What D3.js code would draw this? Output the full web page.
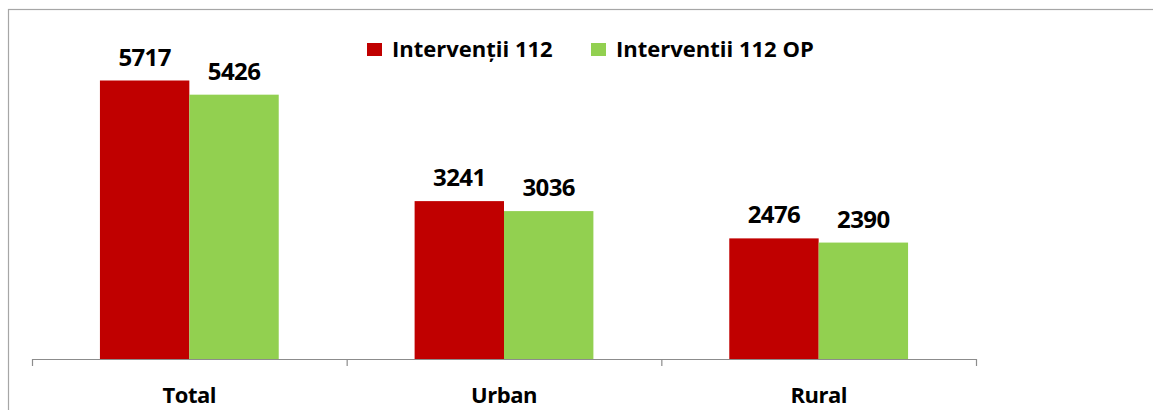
<!DOCTYPE html>
<html>
<head>
<meta charset="utf-8">
<script src="https://cdn.jsdelivr.net/npm/d3@7"></script>
<style>
    body { margin: 0; background: #fff; }
    text { font-family: "Open Sans", "Noto Sans", sans-serif; font-weight: 700; fill: #000; }
</style>
</head>
<body>
<svg id="chart" width="1153" height="410"></svg>
<script>
// data
let categories = ["Total", "Urban", "Rural"]
let series = ["Intervenții 112", "Interventii 112 OP"]
let interventii = [5717, 3241, 2476]
let interventiiOP = [5426, 3036, 2390]

let colors = ["#C00000", "#92D050"]

let svg = d3.select("#chart")
let width = 1153, height = 410

// outer frame
svg.append("rect")
    .attr("x", 8.5)
    .attr("y", 9.5)
    .attr("width", 1200)
    .attr("height", 500)
    .style("fill", "none")
    .style("stroke", "#a6a6a6")
    .style("stroke-width", 1.2)

let rows = categories.map(function (c, i) {
    return { cat: c, values: [interventii[i], interventiiOP[i]] }
})

let x0 = d3.scaleBand()
    .domain(categories)
    .range([32, 976])
    .padding(0)

let x1 = d3.scaleBand()
    .domain(series)
    .range([0, x0.bandwidth()])
    .paddingInner(0)
    .paddingOuter(0.76)

let y = d3.scaleLinear()
    .domain([0, 7000])
    .range([359, 18])

let groups = svg.append("g")
    .selectAll("g")
    .data(rows)
    .join("g")
    .attr("transform", function (d) { return "translate(" + x0(d.cat) + ",0)" })

groups.selectAll("rect")
    .data(function (d) { return d.values.map(function (v, i) { return { s: series[i], v: v, i: i } }) })
    .join("rect")
    .attr("x", function (d) { return x1(d.s) })
    .attr("y", function (d) { return y(d.v) })
    .attr("width", x1.bandwidth())
    .attr("height", function (d) { return y(0) - y(d.v) })
    .style("fill", function (d) { return colors[d.i] })

groups.selectAll("text")
    .data(function (d) { return d.values.map(function (v, i) { return { s: series[i], v: v } }) })
    .join("text")
    .attr("x", function (d) { return x1(d.s) + x1.bandwidth() / 2 })
    .attr("y", function (d) { return y(d.v) - 15 })
    .attr("text-anchor", "middle")
    .style("font-size", "24px")
    .style("letter-spacing", "-0.6px")
    .text(function (d) { return d.v })

// x axis
let xAxis = d3.axisBottom(x0)
    .tickSize(0)
    .tickFormat("")

let axisG = svg.append("g")
    .attr("transform", "translate(0," + y(0) + ")")
    .call(xAxis)
axisG.select(".domain").remove()

axisG.append("line")
    .attr("x1", 32).attr("x2", 976)
    .attr("y1", 0.5).attr("y2", 0.5)
    .style("stroke", "#8c8c8c")
    .style("stroke-width", 1.2)

let tickPos = categories.map(function (c) { return x0(c) }).concat([x0.range()[1]])
axisG.selectAll(".sep")
    .data(tickPos)
    .join("line")
    .attr("class", "sep")
    .attr("x1", function (d) { return d + 0.5 })
    .attr("x2", function (d) { return d + 0.5 })
    .attr("y1", 0)
    .attr("y2", 7)
    .style("stroke", "#8c8c8c")
    .style("stroke-width", 1.2)

svg.append("g")
    .selectAll("text")
    .data(categories)
    .join("text")
    .attr("x", function (d) { return x0(d) + x0.bandwidth() / 2 })
    .attr("y", 403)
    .attr("text-anchor", "middle")
    .style("font-size", "22px")
    .style("letter-spacing", "-0.5px")
    .text(function (d) { return d })

// legend
let legendX = [367, 591]
let legend = svg.append("g")
let legendEntry = legend.selectAll("g")
    .data(series)
    .join("g")
    .attr("transform", function (d, i) { return "translate(" + legendX[i] + ",43)" })

legendEntry.append("rect")
    .attr("width", 15)
    .attr("height", 13)
    .style("fill", function (d, i) { return colors[i] })

legendEntry.append("text")
    .attr("x", 25)
    .attr("y", 14)
    .style("font-size", "22px")
    .text(function (d) { return d })
</script>
</body>
</html>
